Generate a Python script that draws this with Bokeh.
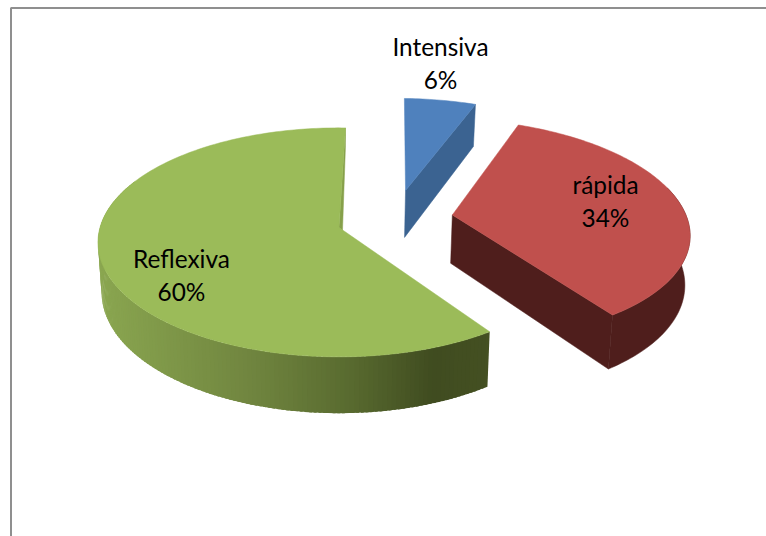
import math
from bokeh.plotting import figure
from bokeh.models import Range1d
from bokeh.core.properties import value
from bokeh.embed import file_html
from bokeh.resources import INLINE

# ---- chart data
categories = ["Intensiva", "rápida", "Reflexiva"]
percent_labels = ["6%", "34%", "60%"]
shares = [5.6, 34.4, 60.0]

# ---- styling / layout
top_colors = ["#4f81bd", "#c0504d", "#9bbb59"]
side_colors = ["#3b6391", "#4f1e1c", "#86a04a"]
green_stops = [(100, (138, 166, 80)), (250, (112, 133, 63)), (350, (88, 106, 47)),
               (430, (64, 76, 32)), (490, (68, 80, 34))]
label_x = [440, 605, 181]
label_base = [46, 184, 258]
pct_base = [79, 217, 291]
explode_x = [69.5, 115.0, 0.0]
explode_z = [-82.0, -27.0, 0.0]
radii = [240.0, 237.0, 239.0]
X0, Y0 = 338.5, 227.0
B, D, H, G = 0.471, 1840.0, 49.0, 0.985
ROT = 1.75


def pt(ax, az, theta, r, bottom=False):
    t = math.radians(theta)
    X = ax + r * math.sin(t)
    Z = az - r * math.cos(t)
    f = 1.0 / (1.0 - Z / D)
    if bottom:
        return X0 + X * f * G, Y0 + B * Z * f + H * f
    return X0 + X * f, Y0 + B * Z * f


def arc(ax, az, r, a, b, bottom=False, step=1.0):
    n = max(2, int(abs(b - a) / step))
    return [pt(ax, az, a + (b - a) * i / n, r, bottom=bottom) for i in range(n + 1)]


def xy(points):
    return [c[0] for c in points], [c[1] for c in points]


def green_color(x):
    s = green_stops
    if x <= s[0][0]:
        c = s[0][1]
    elif x >= s[-1][0]:
        c = s[-1][1]
    else:
        for (x1, c1), (x2, c2) in zip(s, s[1:]):
            if x1 <= x <= x2:
                w = (x - x1) / (x2 - x1)
                c = tuple(c1[i] + (c2[i] - c1[i]) * w for i in range(3))
                break
    return "#%02x%02x%02x" % tuple(int(round(v)) for v in c)


p = figure(width=766, height=536, x_range=Range1d(0, 766), y_range=Range1d(536, 0),
           toolbar_location=None, output_backend="svg", min_border=0,
           x_axis_type=None, y_axis_type=None, outline_line_color=None,
           background_fill_color="white", border_fill_color="white")
p.grid.visible = False

# slice angles, clockwise from the top, from the shares
total = sum(shares)
angles = [ROT]
for v in shares:
    angles.append(angles[-1] + 360.0 * v / total)

# frame
p.line([10.5, 10.5, 766], [536, 7.5, 7.5], line_color="#8f8f8f", line_width=2)

# --- Reflexiva (drawn first, it is nearest)
i = 2
a0, a1 = angles[2], angles[3]
ax, az, r = explode_x[i], explode_z[i], radii[i]
vis_end = a0 + 150
n = int(vis_end - a0)
for k in range(n):
    t0 = a0 + (vis_end - a0) * k / n
    t1 = a0 + (vis_end - a0) * (k + 1.6) / n if k < n - 1 else vis_end
    q = [pt(ax, az, t0, r), pt(ax, az, t1, r), pt(ax, az, t1, r, bottom=True), pt(ax, az, t0, r, bottom=True)]
    col = green_color(sum(c[0] for c in q) / 4)
    xs, ys = xy(q)
    p.patch(xs, ys, fill_color=col, line_color=None)
# thin visible part of the cut face at the start of the slice
apex = pt(ax, az, 0, 0)
corner = pt(ax, az, a1, r)
sx, sy = xy([corner, (corner[0], corner[1] + 18), (apex[0] + 3.5, apex[1] + 3), apex])
p.patch(sx, sy, fill_color=side_colors[2], line_color=side_colors[2], line_width=0.5)
xs, ys = xy([apex] + arc(ax, az, r, a0, a1))
p.patch(xs, ys, fill_color=top_colors[2], line_color=top_colors[2], line_width=0.5)

# --- rápida
i = 1
a0, a1 = angles[1], angles[2]
ax, az, r = explode_x[i], explode_z[i], radii[i]
apex_t = pt(ax, az, 0, 0)
apex_b = pt(ax, az, 0, 0, bottom=True)
front = [apex_t, pt(ax, az, a1, r), pt(ax, az, a1, r, bottom=True), apex_b]
xs, ys = xy(front)
p.patch(xs, ys, fill_color=side_colors[1], line_color=side_colors[1], line_width=0.5)
outer = arc(ax, az, r, 75, a1) + arc(ax, az, r, a1, 75, bottom=True)
xs, ys = xy(outer)
p.patch(xs, ys, fill_color=side_colors[1], line_color=side_colors[1], line_width=0.5)
xs, ys = xy([apex_t] + arc(ax, az, r, a0, a1))
p.patch(xs, ys, fill_color=top_colors[1], line_color=top_colors[1], line_width=0.5)

# --- Intensiva
i = 0
a0, a1 = angles[0], angles[1]
ax, az, r = explode_x[i], explode_z[i], radii[i]
apex_t = pt(ax, az, 0, 0)
apex_b = pt(ax, az, 0, 0, bottom=True)
xs, ys = xy([apex_t, pt(ax, az, a1, r), pt(ax, az, a1, r, bottom=True), apex_b])
p.patch(xs, ys, fill_color=side_colors[0], line_color=side_colors[0], line_width=0.5)
xs, ys = xy([apex_t] + arc(ax, az, r, a0, a1))
p.patch(xs, ys, fill_color=top_colors[0], line_color=top_colors[0], line_width=0.5)

# --- labels
font = value("Lato")
p.text(label_x, label_base, text=categories, text_font=font, text_font_size="24.4px",
       text_align="center", text_baseline="alphabetic", text_color="#000000")
p.text(label_x, pct_base, text=percent_labels, text_font=font, text_font_size="24.4px",
       text_align="center", text_baseline="alphabetic", text_color="#000000")

open("out.html", "w").write(file_html(p, INLINE))
